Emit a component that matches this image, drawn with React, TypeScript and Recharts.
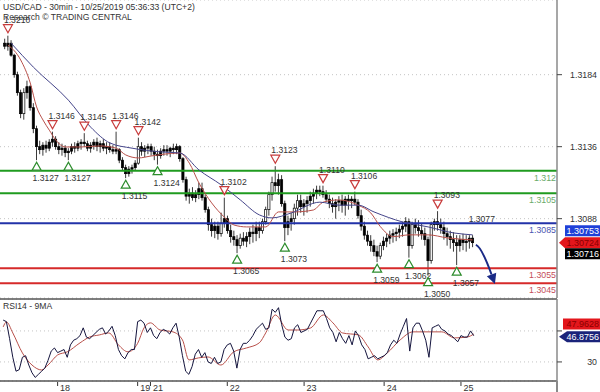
import React from 'react';
import { ComposedChart, Bar, Line, XAxis, YAxis, CartesianGrid, ReferenceLine } from 'recharts';

// USD/CAD hourly-ish candles, values in pips above 1.3000
const BASE = 1.3;
const price = (p: number) => Math.round((BASE + p / 10000) * 1e5) / 1e5;

const opens = [
  205, 203, 205, 197, 184, 172, 158, 172, 176, 162, 148, 136, 134, 137, 135, 139, 141, 136, 134, 135,
  132, 133, 136, 135, 138, 139, 138, 135, 137, 139, 136, 138, 135, 136, 134, 133, 134, 127, 122, 118,
  121, 122, 125, 136, 133, 135, 136, 133, 131, 130, 133, 134, 133, 135, 134, 136, 128, 114, 103, 105,
  102, 104, 108, 102, 94, 84, 80, 83, 78, 85, 88, 80, 76, 74, 70, 75, 73, 76, 79, 78,
  82, 80, 86, 94, 104, 112, 110, 114, 98, 82, 86, 88, 95, 100, 96, 98, 100, 103, 105, 107,
  106, 104, 101, 98, 96, 99, 100, 97, 101, 100, 101, 99, 90, 83, 77, 73, 70, 66, 63, 70,
  73, 75, 77, 78, 79, 81, 83, 86, 70, 84, 82, 80, 78, 74, 60, 84, 86, 84, 82, 78,
  76, 74, 72, 70, 74, 72, 73, 75,
];
const highs = [
  208, 210, 207, 198, 186, 174, 175, 180, 177, 165, 150, 140, 139, 140, 141, 146, 143, 139, 138, 137,
  135, 138, 139, 140, 141, 145, 140, 139, 141, 142, 140, 141, 139, 139, 137, 146, 135, 129, 124, 123,
  124, 127, 142, 139, 137, 138, 138, 136, 134, 135, 137, 137, 136, 138, 138, 137, 129, 116, 108, 109,
  107, 112, 112, 104, 96, 88, 86, 86, 92, 102, 90, 84, 80, 77, 78, 79, 79, 82, 84, 86,
  86, 88, 96, 106, 116, 123, 118, 117, 100, 90, 92, 98, 104, 104, 101, 103, 106, 108, 110, 110,
  110, 107, 104, 102, 101, 103, 104, 103, 104, 103, 106, 101, 94, 86, 80, 77, 74, 70, 72, 76,
  78, 80, 81, 82, 84, 86, 89, 88, 86, 88, 87, 85, 82, 76, 86, 88, 93, 88, 86, 82,
  80, 79, 77, 77, 78, 77, 77, 77,
];
const lows = [
  201, 200, 196, 182, 170, 155, 154, 168, 160, 145, 127, 131, 130, 132, 133, 136, 134, 131, 130, 129,
  127, 131, 132, 133, 134, 136, 133, 132, 134, 133, 132, 133, 131, 132, 131, 131, 125, 120, 115, 116,
  118, 120, 124, 130, 129, 131, 130, 127, 124, 128, 130, 130, 129, 131, 131, 126, 112, 100, 98, 100,
  99, 101, 100, 92, 80, 76, 75, 74, 76, 82, 78, 72, 70, 65, 68, 70, 69, 71, 72, 73,
  75, 78, 84, 90, 100, 106, 104, 96, 73, 77, 80, 84, 90, 92, 90, 92, 96, 98, 101, 103,
  102, 99, 95, 92, 88, 93, 92, 90, 94, 95, 97, 88, 80, 74, 70, 66, 63, 59, 61, 67,
  69, 71, 72, 73, 75, 76, 79, 62, 68, 78, 76, 74, 70, 50, 58, 80, 80, 78, 74, 70,
  68, 66, 57, 66, 67, 66, 68, 69,
];
const closes = [
  203, 205, 197, 184, 172, 158, 172, 176, 162, 148, 136, 134, 137, 135, 139, 141, 136, 134, 135, 132,
  133, 136, 135, 138, 139, 138, 135, 137, 139, 136, 138, 135, 136, 134, 133, 134, 127, 122, 118, 121,
  122, 125, 136, 133, 135, 136, 133, 131, 130, 133, 134, 133, 135, 134, 136, 128, 114, 103, 105, 102,
  104, 108, 102, 94, 84, 80, 83, 78, 85, 88, 80, 76, 74, 70, 75, 73, 76, 79, 78, 82,
  80, 86, 94, 104, 112, 110, 114, 98, 82, 86, 88, 95, 100, 96, 98, 100, 103, 105, 107, 106,
  104, 101, 98, 96, 99, 100, 97, 101, 100, 101, 99, 90, 83, 77, 73, 70, 66, 63, 70, 73,
  75, 77, 78, 79, 81, 83, 86, 70, 84, 82, 80, 78, 74, 60, 84, 86, 84, 82, 78, 76,
  74, 72, 70, 74, 72, 73, 75, 72,
];

// moving averages: [candle, pips]
const fastMa = [
  [1, 203.8], [5, 193.8], [8, 178.5], [10, 162.5], [12, 153.8], [14, 147], [16, 140.5], [19, 135.8],
  [24, 135.8], [30, 136.5], [35, 135], [38, 130.5], [42, 128.5], [46, 129.8], [50, 131], [55, 131.8],
  [58, 125], [61, 111.8], [65, 98.5], [69, 89], [72, 83.8], [76, 82.5], [82, 82.5], [86, 92.5],
  [91, 92.5], [97, 93.8], [100, 99], [105, 100.5], [111, 97], [115, 91.8], [118, 82.7], [122, 76],
  [127, 77.2], [133, 77.2], [139, 75.2], [147, 73.8],
];
const slowMa = [
  [2, 205], [9, 189], [20, 167], [27, 149], [33, 138.5], [40, 135], [49, 132.5], [55, 131.8],
  [61, 120.5], [68, 110.5], [74, 100.5], [80, 90.5], [84, 88.5], [90, 91.8], [99, 99], [105, 97],
  [111, 97], [116, 92.5], [125, 85.8], [133, 82.5], [141, 78.5], [147, 77.2],
];

const rsi = [
  57, 56, 45, 33, 24, 25, 33, 34, 28, 23, 20, 22, 24, 26, 31, 37, 39, 36, 37, 38,
  33, 41, 44, 45, 47, 52, 46, 45, 47, 49, 51, 52, 48, 50, 53, 47, 38, 34, 32, 36,
  38, 38, 56, 57, 55, 49, 52, 47, 45, 49, 51, 50, 48, 52, 55, 46, 34, 24, 22, 27,
  35, 38, 33, 36, 30, 29, 33, 29, 30, 38, 41, 42, 37, 26, 38, 42, 42, 44, 47, 51,
  53, 55, 51, 52, 64, 62, 65, 54, 46, 44, 45, 52, 54, 49, 50, 51, 55, 59, 63, 63,
  63, 58, 52, 49, 43, 49, 45, 42, 47, 41, 50, 47, 41, 38, 32, 33, 34, 32, 33, 34,
  36, 41, 44, 42, 48, 53, 58, 37, 52, 55, 55, 50, 44, 33, 52, 53, 54, 51, 50, 48,
  47, 45, 43, 47, 46, 46, 50, 46.9,
];
const rsiMa = [
  [0, 52.6], [1, 55.8], [3, 48.7], [6, 35.8], [9, 28], [12, 24.8], [14, 28], [17, 34.5], [20, 36.5],
  [24, 42.3], [27, 46.1], [30, 47.4], [33, 48.7], [36, 41], [39, 36.5], [42, 42], [44, 52], [46, 55.2],
  [49, 50.6], [53, 49.4], [56, 44.2], [58, 31.3], [61, 32.6], [64, 33.2], [68, 28], [72, 36.5],
  [76, 39], [80, 42.3], [82, 48.7], [85, 60.3], [89, 50.6], [92, 50.6], [96, 51.9], [100, 60.3],
  [103, 55.2], [106, 48.7], [111, 47.4], [114, 39.7], [117, 31.3], [120, 35.8], [124, 44.2],
  [128, 49.4], [133, 49.4], [137, 49.4], [141, 45.5], [145, 46.1], [147, 48],
];

const pivotHighAt = [1, 15, 25, 35, 42, 69, 85, 100, 110, 136, 147];
const pivotLowAt = [10, 20, 38, 48, 73, 88, 117, 127, 133, 142];
const openPivot = 147; // not confirmed yet, drawn without marker

const levels = [1.312, 1.3105, 1.3085, 1.3055, 1.3045];
const levelColors = ['#1f9b1f', '#1f9b1f', '#2232a8', '#d62a2a', '#d62a2a'];
const levelTextColors = ['#6aaa6a', '#6aaa6a', '#4a55b0', '#c44e5a', '#c44e5a'];

const priceTicks = [1.3039, 1.3088, 1.3136, 1.3184];
const priceTags = [1.30753, 1.30724, 1.30716];
const rsiTags = [47.9628, 46.8756];

const dayLabels = ['18', '19', '21', '22', '23', '24', '25'];
const dayStart = [17, 42, 46, 70, 94, 119, 143];

const ROWS = 175;
const PRICE_DOMAIN = [1.30351, 1.32338];
const RSI_DOMAIN = [17.7, 70.6];

const rows: any[] = Array.from({ length: ROWS }, (_, i) => {
  const c = i - 1;
  const r: any = { i };
  if (c >= 0 && c < closes.length) {
    r.range = [price(lows[c]), price(highs[c])];
    r.o = price(opens[c]);
    r.c = price(closes[c]);
    r.rsi = rsi[c];
  }
  return r;
});
fastMa.forEach(([c, p]) => (rows[c + 1].fast = price(p)));
slowMa.forEach(([c, p]) => (rows[c + 1].slow = price(p)));
rsiMa.forEach(([c, v]) => (rows[c + 1].rsiMa = v));
pivotHighAt.forEach((c) => {
  rows[c + 1].ph = price(highs[c]);
  rows[c + 1].phMark = c !== openPivot;
});
pivotLowAt.forEach((c) => (rows[c + 1].pl = price(lows[c])));

const dayRows = dayStart.map((c) => c + 1);

const Candle = (props: any) => {
  const { x, y, width, height, payload } = props;
  if (!payload || payload.range == null) return null;
  const [lo, hi] = payload.range;
  const span = hi - lo || 1e-9;
  const py = (v: number) => y + ((hi - v) / span) * height;
  const cx = x + width / 2;
  const top = py(Math.max(payload.o, payload.c));
  const bot = py(Math.min(payload.o, payload.c));
  // only the bigger up candles show as hollow at this size
  const hollow = payload.c > payload.o && bot - top > 6;
  return (
    <g>
      <line x1={cx} x2={cx} y1={y} y2={y + height} stroke="#3a3a3a" strokeWidth={1} />
      <rect x={cx - 1.1} y={top} width={2.2} height={Math.max(bot - top, 1)}
        fill={hollow ? '#fff' : '#000'} stroke="#000" strokeWidth={0.7} />
    </g>
  );
};

const PivotHigh = (props: any) => {
  const { cx, cy, payload, index } = props;
  if (!payload || payload.ph == null || cy == null) return <g key={`ph${index}`} />;
  return (
    <g key={`ph${index}`}>
      {payload.phMark && (
        <path d={`M${cx - 4.5},${cy - 11} L${cx + 4.5},${cy - 11} L${cx},${cy - 3} Z`}
          fill="#fff" stroke="#c83c3c" strokeWidth={1.2} />
      )}
      <text x={cx - 4} y={cy - 13} fontSize={8.6} fill="#333">{payload.ph.toFixed(4)}</text>
    </g>
  );
};

const PivotLow = (props: any) => {
  const { cx, cy, payload, index } = props;
  if (!payload || payload.pl == null || cy == null) return <g key={`pl${index}`} />;
  return (
    <g key={`pl${index}`}>
      <path d={`M${cx - 4.5},${cy + 10} L${cx + 4.5},${cy + 10} L${cx},${cy + 2} Z`}
        fill="#fff" stroke="#2c8c2c" strokeWidth={1.2} />
      <text x={cx - 4} y={cy + 21} fontSize={8.6} fill="#333">{payload.pl.toFixed(4)}</text>
    </g>
  );
};

const PriceTick = ({ x, y, payload }: any) => (
  <g>
    <line x1={x} x2={x + 5} y1={y} y2={y} stroke="#444" />
    <text x={597} y={y + 3} textAnchor="end" fontSize={8.8} fill="#333">{payload.value.toFixed(4)}</text>
  </g>
);

const RsiTick = ({ x, y, payload }: any) => (
  <g>
    <line x1={x} x2={x + 5} y1={y} y2={y} stroke="#444" />
    {payload.value === 30 && (
      <text x={597} y={y + 3} textAnchor="end" fontSize={8.8} fill="#333">30</text>
    )}
  </g>
);

const DayTick = ({ x, y, payload }: any) => {
  const k = dayRows.indexOf(payload.value);
  return (
    <g>
      <line x1={x} x2={x} y1={y + 1} y2={y + 5} stroke="#333" />
      <text x={x + 2.5} y={y + 9.5} fontSize={9} fill="#333">{dayLabels[k]}</text>
    </g>
  );
};

const LevelLabel = ({ viewBox, text, color }: any) => (
  <text x={viewBox.x + viewBox.width - 1} y={viewBox.y + 10} textAnchor="end" fontSize={8.8} fill={color}>
    {text}
  </text>
);

const Tag = ({ viewBox, text, bg, fg, dy, arrow, boxLeft }: any) => {
  const x0 = viewBox.x + viewBox.width;
  const cy = viewBox.y + dy;
  const h = 5.5;
  const left = x0 + boxLeft;
  const d = arrow
    ? `M${x0 + 2},${cy} L${left},${cy - h} H600 V${cy + h} H${left} Z`
    : `M${left},${cy - h} H600 V${cy + h} H${left} Z`;
  return (
    <g>
      <path d={d} fill={bg} />
      <text x={599} y={cy + 3.2} textAnchor="end" fontSize={9} fill={fg}>{text}</text>
    </g>
  );
};

const Arrow = (props: any) => {
  const { x1, y1, x2, y2 } = props;
  const qx = x1 + (x2 - x1) * 0.3;
  const qy = y1 + 2;
  let dx = x2 - qx;
  let dy = y2 - qy;
  const len = Math.hypot(dx, dy) || 1;
  dx /= len;
  dy /= len;
  const bx = x2 - dx * 10;
  const by = y2 - dy * 10;
  return (
    <g>
      <path d={`M${x1},${y1} Q${qx},${qy} ${bx},${by}`} fill="none" stroke="#1a2a86" strokeWidth={2} />
      <path d={`M${x2},${y2} L${bx - dy * 5},${by + dx * 5} L${bx + dy * 5},${by - dx * 5} Z`} fill="#1a2a86" />
    </g>
  );
};

const tagLook = [
  { bg: '#1f40d8', fg: '#fff', dy: -7, arrow: false },
  { bg: '#e3161c', fg: '#8a0000', dy: 0.8, arrow: true },
  { bg: '#000', fg: '#fff', dy: 10.5, arrow: false },
];
const rsiTagLook = [
  { bg: '#e3161c', fg: '#8a0000', dy: -10, arrow: false, boxLeft: 6 },
  { bg: '#1a237a', fg: '#fff', dy: 1, arrow: true, boxLeft: 10 },
];

export default function App() {
  return (
    <div style={{ position: 'absolute', left: 0, top: 0, width: 600, height: 392, background: '#fff',
      overflow: 'hidden', fontFamily: '"Liberation Sans", Arial, sans-serif' }}>
      <div style={{ position: 'absolute', left: 0, top: 0 }}>
        <ComposedChart width={600} height={298} data={rows} margin={{ top: 0, right: 0, bottom: 0, left: 0 }}
          barCategoryGap={0}>
          <CartesianGrid vertical={false} stroke="#c4c4c4" strokeDasharray="1 3" />
          <XAxis dataKey="i" hide />
          <YAxis orientation="right" width={43} domain={PRICE_DOMAIN} allowDataOverflow ticks={priceTicks}
            tickSize={0} tickMargin={0} tickLine={false} tick={<PriceTick />}
            axisLine={{ stroke: '#8a8a8a', strokeWidth: 1.5 }} />
          {levels.map((lv, k) => (
            <ReferenceLine key={`lv${k}`} y={lv} stroke={levelColors[k]} strokeWidth={2}
              segment={[{ x: 0, y: lv }, { x: ROWS - 1, y: lv }]}
              label={(p: any) => <LevelLabel {...p} text={String(lv)} color={levelTextColors[k]} />} />
          ))}
          <Bar dataKey="range" shape={<Candle />} isAnimationActive={false} />
          <Line dataKey="fast" stroke="#b8504a" strokeWidth={1} dot={false} connectNulls type="monotone"
            isAnimationActive={false} activeDot={false} />
          <Line dataKey="slow" stroke="#45458a" strokeWidth={1} dot={false} connectNulls type="monotone"
            isAnimationActive={false} activeDot={false} />
          <ReferenceLine segment={[{ x: 149, y: 1.30705 }, { x: 155, y: 1.30445 }]} shape={Arrow} />
          <Line dataKey="ph" stroke="none" dot={PivotHigh} activeDot={false} isAnimationActive={false} />
          <Line dataKey="pl" stroke="none" dot={PivotLow} activeDot={false} isAnimationActive={false} />
          {priceTags.map((v, k) => (
            <ReferenceLine key={`tag${k}`} y={v} stroke="none" ifOverflow="visible"
              label={(p: any) => <Tag {...p} text={v.toFixed(5)} boxLeft={8} {...tagLook[k]} />} />
          ))}
        </ComposedChart>
      </div>
      <div style={{ position: 'absolute', left: 0, top: 298 }}>
        <ComposedChart width={600} height={94} data={rows} margin={{ top: 1, right: 0, bottom: 0, left: 0 }}>
          <CartesianGrid vertical={false} stroke="#c4c4c4" strokeDasharray="1 3" />
          <XAxis dataKey="i" ticks={dayRows} interval={0} height={11} tickSize={0} tickMargin={0}
            tickLine={false} tick={<DayTick />} axisLine={{ stroke: '#555', strokeWidth: 1.5 }} />
          <YAxis orientation="right" width={43} domain={RSI_DOMAIN} allowDataOverflow ticks={[30, 50]}
            tickSize={0} tickMargin={0} tickLine={false} tick={<RsiTick />}
            axisLine={{ stroke: '#8a8a8a', strokeWidth: 1.5 }} />
          <ReferenceLine y={RSI_DOMAIN[1]} stroke="#555" strokeWidth={1.5} />
          <Line dataKey="rsiMa" stroke="#b8504a" strokeWidth={1} dot={false} connectNulls type="monotone"
            isAnimationActive={false} activeDot={false} />
          <Line dataKey="rsi" stroke="#15153e" strokeWidth={1} dot={false} type="linear"
            isAnimationActive={false} activeDot={false} />
          {rsiTags.map((v, k) => (
            <ReferenceLine key={`rt${k}`} y={v} stroke="none" ifOverflow="visible"
              label={(p: any) => <Tag {...p} text={v.toFixed(4)} {...rsiTagLook[k]} />} />
          ))}
        </ComposedChart>
      </div>
      <div style={{ position: 'absolute', left: 556.25, top: 381, width: 1.5, height: 11, background: '#8a8a8a' }} />
      <svg width={600} height={392} style={{ position: 'absolute', left: 0, top: 0, pointerEvents: 'none' }}>
        <text x={3} y={9.5} fontSize={8.6} fill="#333">USD/CAD - 30min - 10/25/2019 05:36:33 (UTC+2)</text>
        <text x={3} y={19.5} fontSize={8.6} fill="#333">Research © TRADING CENTRAL</text>
        <text x={3} y={308.5} fontSize={8.6} fill="#333">RSI14 - 9MA</text>
      </svg>
    </div>
  );
}
